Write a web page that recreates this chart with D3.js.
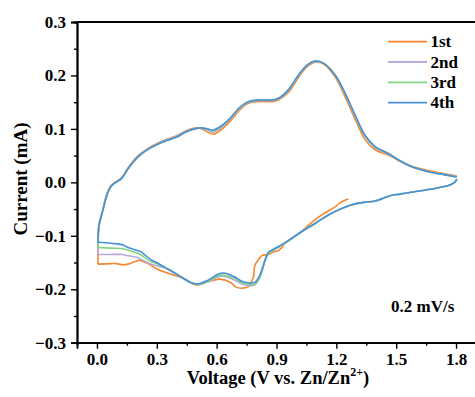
<!DOCTYPE html>
<html><head><meta charset="utf-8">
<script src="https://cdn.jsdelivr.net/npm/d3@7"></script>
<style>body{margin:0;background:#fff}svg{display:block}text{font-family:"Liberation Serif","Times New Roman",serif;font-weight:bold;fill:#000}</style>
</head><body><svg id="c" width="475" height="397"></svg>
<script>
const seriesNames = ["1st","2nd","3rd","4th"];
const seriesColors = ["#F5862E","#B9A9DC","#7FD87F","#4A8FD8"];
const xTicks = [0.0,0.3,0.6,0.9,1.2,1.5,1.8];
const yTicks = [-0.3,-0.2,-0.1,0.0,0.1,0.2,0.3];
// shared anodic (upper) branch, V (V) and I (mA)
const upperV = [0.005,0.01,0.03,0.05,0.07,0.09,0.124,0.157,0.207,0.266,0.333,0.40,0.45,0.50,0.525,0.555,0.583,0.617,0.667,0.717,0.759,0.809,0.876,0.909,0.959,1.010,1.052,1.093,1.135,1.194,1.244,1.294,1.344,1.394,1.461,1.511,1.578,1.661,1.745,1.804];
const upper4 = [-0.112,-0.080,-0.052,-0.024,-0.008,-0.001,0.0075,0.026,0.048,0.064,0.076,0.085,0.095,0.101,0.102,0.100,0.098,0.104,0.120,0.141,0.151,0.154,0.154,0.157,0.173,0.201,0.219,0.227,0.223,0.201,0.167,0.126,0.088,0.067,0.054,0.042,0.029,0.020,0.014,0.010];
const upper1 = [-0.152,-0.085,-0.050,-0.021,-0.006,0.000,0.009,0.028,0.050,0.066,0.078,0.087,0.097,0.102,0.100,0.094,0.090,0.097,0.114,0.136,0.148,0.151,0.151,0.154,0.168,0.196,0.216,0.225,0.222,0.197,0.160,0.118,0.080,0.061,0.051,0.041,0.030,0.022,0.016,0.012];
const upper2 = [-0.135,-0.082,-0.051,-0.023,-0.007,-0.001,0.008,0.027,0.049,0.065,0.077,0.086,0.096,0.101,0.101,0.098,0.094,0.101,0.118,0.139,0.150,0.153,0.153,0.156,0.171,0.199,0.218,0.226,0.223,0.200,0.165,0.124,0.086,0.065,0.053,0.042,0.029,0.020,0.015,0.011];
const upper3 = [-0.122,-0.081,-0.052,-0.024,-0.008,-0.001,0.0075,0.026,0.048,0.064,0.076,0.085,0.095,0.101,0.102,0.099,0.096,0.103,0.119,0.140,0.151,0.154,0.154,0.157,0.172,0.200,0.219,0.227,0.223,0.201,0.166,0.125,0.087,0.066,0.054,0.042,0.029,0.020,0.014,0.010];
// cathodic (lower) branch, from high V down to 0
const lowerV = [1.804,1.795,1.762,1.737,1.67,1.586,1.52,1.478,1.394,1.344,1.277,1.227,1.16,1.093,1.027,0.959,0.909,0.876,0.859,0.843,0.817,0.792,0.759,0.726,0.691,0.640,0.607,0.557,0.507,0.473,0.406,0.340,0.299,0.272,0.216,0.206,0.139,0.132,0.072,0.005];
const lower4 = [0.006,0.001,-0.006,-0.008,-0.013,-0.018,-0.022,-0.024,-0.035,-0.037,-0.042,-0.049,-0.061,-0.077,-0.092,-0.109,-0.120,-0.127,-0.131,-0.145,-0.173,-0.187,-0.188,-0.185,-0.177,-0.170,-0.172,-0.183,-0.190,-0.188,-0.173,-0.159,-0.150,-0.145,-0.129,-0.128,-0.119,-0.117,-0.114,-0.112];
const lower2 = [0.006,0.001,-0.006,-0.008,-0.013,-0.018,-0.022,-0.024,-0.035,-0.037,-0.042,-0.049,-0.061,-0.077,-0.092,-0.110,-0.122,-0.129,-0.133,-0.146,-0.178,-0.192,-0.193,-0.190,-0.183,-0.176,-0.177,-0.186,-0.191,-0.188,-0.174,-0.160,-0.156,-0.153,-0.143,-0.141,-0.136,-0.135,-0.135,-0.135];
const lower3 = [0.006,0.001,-0.006,-0.008,-0.013,-0.018,-0.022,-0.024,-0.035,-0.037,-0.042,-0.049,-0.061,-0.077,-0.092,-0.110,-0.121,-0.128,-0.132,-0.146,-0.176,-0.190,-0.191,-0.188,-0.180,-0.174,-0.175,-0.185,-0.191,-0.188,-0.173,-0.159,-0.152,-0.148,-0.135,-0.133,-0.125,-0.124,-0.123,-0.122];
const lower1V = [1.26,1.219,1.194,1.127,1.06,1.035,0.976,0.951,0.909,0.884,0.859,0.826,0.809,0.792,0.784,0.759,0.726,0.692,0.673,0.615,0.557,0.498,0.44,0.373,0.306,0.256,0.214,0.185,0.155,0.122,0.099,0.072,0.005];
const lower1 = [-0.031,-0.038,-0.046,-0.061,-0.080,-0.089,-0.105,-0.111,-0.128,-0.130,-0.135,-0.137,-0.145,-0.155,-0.177,-0.195,-0.198,-0.195,-0.188,-0.181,-0.186,-0.192,-0.181,-0.172,-0.163,-0.152,-0.146,-0.149,-0.153,-0.154,-0.152,-0.152,-0.153];

const series = [
  {lowV: lower1V, low: lower1, up: upper1},
  {lowV: lowerV, low: lower2, up: upper2},
  {lowV: lowerV, low: lower3, up: upper3},
  {lowV: lowerV, low: lower4, up: upper4}
];

const svg = d3.select("#c");
const m = {l:77, r:476, t:22, b:342.7};
const x = d3.scaleLinear().domain([-0.1,1.9]).range([m.l,m.r]);
const y = d3.scaleLinear().domain([-0.3,0.3]).range([m.b,m.t]);

const line = d3.line().x(d=>x(d[0])).y(d=>y(d[1])).curve(d3.curveCatmullRom.alpha(0.5));

series.forEach((s,i)=>{
  const lowerPts = s.lowV.map((v,k)=>[v,s.low[k]]);
  const upperPts = [[0.005,s.low[s.low.length-1]]].concat(upperV.map((v,k)=>[v,s.up[k]]));
  [lowerPts,upperPts].forEach(p=>{
    svg.append("path").attr("d",line(p)).attr("fill","none")
      .attr("stroke",seriesColors[i]).attr("stroke-width",1.6).attr("stroke-linejoin","round");
  });
});

// axes
const xAxis = d3.axisBottom(x).tickValues(xTicks).tickSize(6).tickPadding(4).tickFormat(d3.format(".1f"));
const gx = svg.append("g").attr("transform",`translate(0,${m.b})`).call(xAxis);
gx.selectAll(".tick text").attr("font-size",17).attr("dy","0.71em");
svg.append("g").attr("transform",`translate(0,${m.b})`).call(d3.axisBottom(x).tickValues(xTicks.slice(0,-1).map(v=>v+0.15)).tickSize(3).tickFormat(""));
const yAxis = d3.axisLeft(y).tickValues(yTicks).tickSize(6).tickPadding(5).tickFormat(d=>d3.format(".1f")(d).replace("-","\u2212"));
const gy = svg.append("g").attr("transform",`translate(${m.l},0)`).call(yAxis);
gy.selectAll(".tick text").attr("font-size",17);
svg.append("g").attr("transform",`translate(${m.l},0)`).call(d3.axisLeft(y).tickValues(yTicks.slice(0,-1).map(v=>v+0.05)).tickSize(3).tickFormat(""));
svg.selectAll(".domain").attr("stroke","#000").attr("stroke-width",1.8);
svg.selectAll(".tick line").attr("stroke","#000").attr("stroke-width",1.4);
svg.append("line").attr("x1",m.l).attr("x2",m.r).attr("y1",m.t).attr("y2",m.t).attr("stroke","#000").attr("stroke-width",1.8);
svg.append("line").attr("x1",m.r).attr("x2",m.r).attr("y1",m.t).attr("y2",m.b).attr("stroke","#000").attr("stroke-width",1.8);

// titles
const xt = svg.append("text").attr("x",278).attr("y",384).attr("text-anchor","middle").attr("font-size",18.5);
xt.append("tspan").text("Voltage (V vs. Zn/Zn");
xt.append("tspan").attr("font-size",12).attr("dy",-8).text("2+");
xt.append("tspan").attr("dy",8).text(")");
svg.append("text").attr("transform","translate(27,179) rotate(-90)").attr("text-anchor","middle").attr("font-size",19).text("Current (mA)");

// legend
seriesNames.forEach((n,i)=>{
  const yy = 41.7 + i*20.3;
  svg.append("line").attr("x1",388).attr("x2",427).attr("y1",yy).attr("y2",yy).attr("stroke",seriesColors[i]).attr("stroke-width",1.8);
  svg.append("text").attr("x",430.5).attr("y",yy+5.5).attr("font-size",17).text(n);
});
svg.append("text").attr("x",391).attr("y",312).attr("font-size",17).text("0.2 mV/s");
</script></body></html>
